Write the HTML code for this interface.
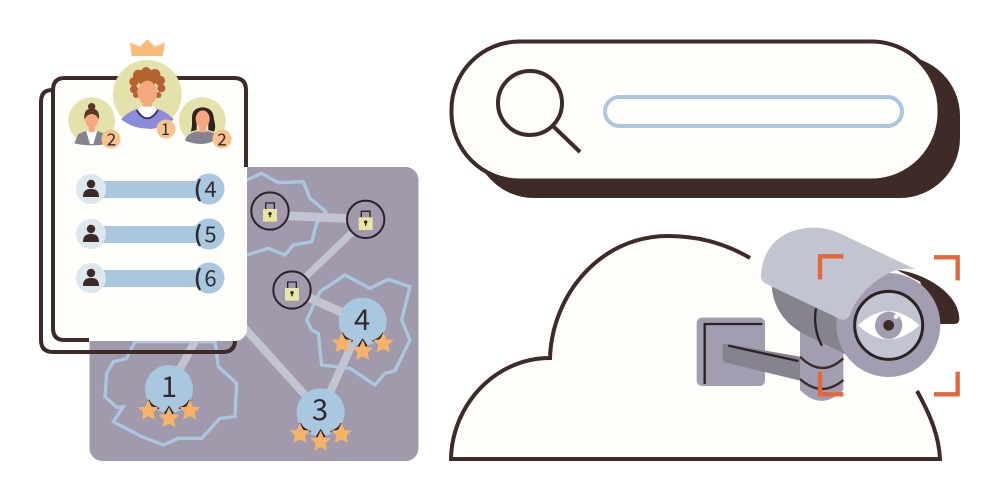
<!DOCTYPE html>
<html><head><meta charset="utf-8"><style>
html,body{margin:0;padding:0;background:#fff}
svg{display:block}
text{font-family:"Noto Sans CJK JP","Liberation Sans",sans-serif;fill:#2f2a30;text-anchor:middle}
</style></head><body>
<svg width="997" height="500" viewBox="0 0 997 500" xmlns="http://www.w3.org/2000/svg">
<defs>
<g id="stars">
<path d="M-62,33Q-55,52-30,58M-12,74L0,55L12,74M62,33Q55,52 30,58" fill="none" stroke="#2b2226" stroke-width="6"/>
<g fill="#f7b267">
<polygon transform="translate(-62 65) scale(3.3)" points="0,-10 2.9,-3.6 9.5,-3.1 4.6,1.4 5.9,8.1 0,5 -5.9,8.1 -4.6,1.4 -9.5,-3.1 -2.9,-3.6"/>
<polygon transform="translate(0 88) scale(3.3)" points="0,-10 2.9,-3.6 9.5,-3.1 4.6,1.4 5.9,8.1 0,5 -5.9,8.1 -4.6,1.4 -9.5,-3.1 -2.9,-3.6"/>
<polygon transform="translate(62 65) scale(3.3)" points="0,-10 2.9,-3.6 9.5,-3.1 4.6,1.4 5.9,8.1 0,5 -5.9,8.1 -4.6,1.4 -9.5,-3.1 -2.9,-3.6"/>
</g></g>
<g id="lock">
<circle r="56" fill="#a09aac" stroke="#2b2226" stroke-width="6"/>
<path d="M-13,-6V-24H13V-6" fill="none" stroke="#2b2226" stroke-width="4"/>
<rect x="-21" y="-6" width="42" height="38" rx="2" fill="#e9e5a5"/>
<circle cy="8" r="5" fill="#2b2226"/><rect x="-2" y="8" width="4" height="11" fill="#2b2226"/>
</g>
<g id="user">
<circle r="15" fill="#dce7f0"/>
<circle cy="-5" r="4.200" fill="#3c2a26"/>
<path d="M-8,8C-8,1-4,0 0,0S8,1 8,8Z" fill="#3c2a26"/>
</g>
</defs>

<!-- search -->
<rect x="474" y="56" width="486" height="142" rx="60" fill="#3e2a26"/>
<rect x="451.500" y="41.500" width="488" height="139" rx="68" fill="#fffefb" stroke="#3e2a26" stroke-width="4"/>
<circle cx="530" cy="103" r="32" fill="none" stroke="#3e2a26" stroke-width="4"/>
<line x1="553" y1="126" x2="580" y2="152" stroke="#3e2a26" stroke-width="4"/>
<rect x="605" y="97" width="297" height="29" rx="14.500" fill="#fffefb" stroke="#a9c8e0" stroke-width="4"/>

<!-- cloud -->
<path d="M450,459C452,405 495,358 550,358C552,295 600,236 668,236C700,236 728,245 750,258L920,400C932,418 939,438 940,459Z" fill="#fffefb"/>
<path d="M750,258C728,245 700,236 668,236C600,236 552,295 550,358C495,358 452,405 451,459H940C939,438 932,418 917,391" fill="none" stroke="#3e2a26" stroke-width="4"/>

<!-- camera -->
<g transform="translate(680 215) scale(.33333)">
<path d="M360,340H490V525Q425,590 360,525Z" fill="#a29db0"/>
<path d="M360,425Q425,490 490,430M360,492Q425,550 490,495" fill="none" stroke="#3e2a26" stroke-width="7"/>
<rect x="50" y="308" width="205" height="205" rx="16" fill="#a29db0"/>
<path d="M247,327H74V507" fill="none" stroke="#2b2226" stroke-width="7"/>
<path d="M128,388Q135,385 150,388L360,425V497L135,442Q128,438 128,430Z" fill="#86838f"/>
<line x1="145" y1="392" x2="355" y2="438" stroke="#2b2226" stroke-width="7"/>
<path d="M275,215C280,280 320,340 400,370L500,420L560,250Z" fill="#86838f"/>
<path d="M408,280C400,320 410,365 426,392" fill="none" stroke="#2b2226" stroke-width="7"/>
<path d="M650,165C720,170 838,230 838,312Q838,327 822,327H770L720,200Z" fill="#3e2a26"/>
<circle cx="625" cy="330" r="156" fill="#a29db0"/>
<path d="M243,178C250,90 310,38 405,38C440,38 470,50 500,65L705,162Q670,160 650,165C590,185 530,240 510,300Q500,320 480,312L255,205Q243,198 243,178Z" fill="#c2c4d1"/>
<circle cx="626" cy="331" r="102" fill="#c2c4d1" stroke="#2b2226" stroke-width="9"/>
<path d="M534,331Q625,245 718,331Q625,415 534,331Z" fill="#fff"/>
<circle cx="626" cy="331" r="41" fill="#a29db0"/>
<circle cx="626" cy="331" r="16" fill="#3e2a26"/>
<circle cx="648" cy="305" r="7" fill="#fff"/>
<path d="M490,124H420V193M762,127H833V196M420,470V538H490M833,470V538H762" fill="none" stroke="#e2673a" stroke-width="13"/>
</g>

<!-- network panel -->
<rect x="89.500" y="167" width="329" height="294" rx="13" fill="#a09aac"/>
<g transform="translate(80 160) scale(.33333)">
<g fill="none" stroke="#a9c8e0" stroke-width="10" stroke-linejoin="miter">
<path d="M75,710L80,640L100,605L140,595L165,545L405,545L415,620L470,670L465,770L420,775L365,835L295,835L250,855L185,830L100,785L130,740L110,742Z"/>
<path d="M680,480L720,395L795,345L870,385L925,358L990,380L965,480L990,540L945,632L915,640L885,675L810,625L725,615L715,520L695,510Z"/>
<path d="M500,60L545,40L595,68L670,65L690,115L738,155L710,190L695,245L640,255L615,285L565,265L500,285"/>
</g>
<g fill="none" stroke="#c2c4d1">
<path d="M570,165L857,178" stroke-width="26"/>
<path d="M857,178L636,390" stroke-width="21"/>
<path d="M636,390L848,485" stroke-width="26"/>
<path d="M848,485L722,757" stroke-width="24"/>
<path d="M722,757L490,500" stroke-width="24"/>
<path d="M267,687L350,535" stroke-width="24"/>
</g>
<use href="#lock" x="570" y="153"/>
<use href="#lock" x="857" y="178"/>
<use href="#lock" x="636" y="390"/>
<circle cx="267" cy="687" r="72" fill="#a9c8e0"/>
<circle cx="722" cy="757" r="72" fill="#a9c8e0"/>
<circle cx="848" cy="485" r="72" fill="#a9c8e0"/>
<use href="#stars" x="267" y="687"/>
<use href="#stars" x="722" y="757"/>
<use href="#stars" x="848" y="485"/>
</g>
<text x="169" y="397" font-size="29">1</text>
<text x="320" y="420" font-size="29">3</text>
<text x="362" y="330" font-size="29">4</text>

<!-- cards -->
<path d="M52,90Q41,90 41,102V340Q41,352 53,352H223Q235,352 235,340" fill="none" stroke="#3e2a26" stroke-width="4"/>
<rect x="52" y="76" width="195" height="265" rx="12" fill="#fffefb"/>
<path d="M89,340H64Q53,340 53,328V90Q53,78 65,78H234Q246,78 246,90V167" fill="none" stroke="#3e2a26" stroke-width="4"/>

<!-- list rows -->
<g>
<rect x="100" y="181" width="102" height="17" fill="#a9c8e0"/>
<rect x="100" y="226" width="102" height="17" fill="#a9c8e0"/>
<rect x="100" y="270" width="102" height="17" fill="#a9c8e0"/>
<circle cx="209" cy="189" r="15.500" fill="#a9c8e0"/>
<circle cx="209" cy="234" r="15.500" fill="#a9c8e0"/>
<circle cx="209" cy="278" r="15.500" fill="#a9c8e0"/>
<use href="#user" x="91" y="189"/>
<use href="#user" x="91" y="234"/>
<use href="#user" x="91" y="278"/>
<text x="198" y="197" font-size="22" font-weight="bold">(</text><text x="210.500" y="197" font-size="22">4</text>
<text x="198" y="242" font-size="22" font-weight="bold">(</text><text x="210.500" y="242" font-size="22">5</text>
<text x="198" y="286" font-size="22" font-weight="bold">(</text><text x="210.500" y="286" font-size="22">6</text>
</g>

<!-- avatars -->
<g transform="translate(30 30) scale(.33333)">
<polygon points="300,38 330,50 352,28 375,50 405,38 398,78 305,78" fill="#f9bb78"/>
<!-- left -->
<circle cx="185" cy="272" r="70" fill="#e3e2ab"/>
<path d="M133,340L145,312L170,302H200L225,312L238,340Q185,352 133,340Z" fill="#86838f"/>
<path d="M168,302H202L190,342H180Z" fill="#fff"/>
<rect x="176" y="280" width="18" height="26" fill="#f5a77f"/>
<ellipse cx="185" cy="267" rx="20" ry="26" fill="#f5a77f"/>
<path d="M163,268Q160,236 185,236T207,268Q198,252 185,252T163,268Z" fill="#5a3528"/>
<circle cx="185" cy="230" r="11" fill="#5a3528"/>
<!-- center -->
<circle cx="352" cy="193" r="103" fill="#e3e2ab"/>
<path d="M273,268Q300,238 340,232H368Q405,240 431,268Q390,300 352,296Q310,296 273,268Z" fill="#8a8bdc"/>
<path d="M322,238L340,225H365L384,240L368,262H338Z" fill="#fff"/>
<rect x="338" y="195" width="28" height="35" fill="#f5a77f"/>
<path d="M320,240Q352,290 384,240" fill="none" stroke="#2b2a50" stroke-width="5"/>
<g fill="#b4622f">
<circle cx="352" cy="145" r="28"/><circle cx="325" cy="135" r="16"/><circle cx="348" cy="125" r="14"/><circle cx="375" cy="133" r="16"/>
<circle cx="390" cy="152" r="15"/><circle cx="394" cy="175" r="12"/><circle cx="385" cy="195" r="9"/>
<circle cx="312" cy="155" r="14"/><circle cx="312" cy="178" r="12"/><circle cx="318" cy="195" r="9"/>
</g>
<ellipse cx="352" cy="188" rx="29" ry="36" fill="#f5a77f"/>
<!-- right -->
<circle cx="517" cy="272" r="70" fill="#e3e2ab"/>
<path d="M465,332Q470,310 500,304H535Q560,310 565,325Q520,355 465,332Z" fill="#86838f"/>
<path d="M482,305C492,280 478,250 497,238C515,226 545,232 550,255C552,275 560,290 552,305L535,300V260H500V300Z" fill="#2f2320"/>
<rect x="508" y="285" width="20" height="22" fill="#f5a77f"/>
<ellipse cx="518" cy="267" rx="21" ry="26" fill="#f5a77f"/>
</g>
<circle cx="166" cy="129" r="9.500" fill="#f7c48f"/>
<circle cx="111" cy="139" r="9.500" fill="#f7c48f"/>
<circle cx="222" cy="139" r="9.500" fill="#f7c48f"/>
<text x="165.500" y="135" font-size="16">1</text>
<text x="111.500" y="145.500" font-size="17">2</text>
<text x="222" y="145.500" font-size="17">2</text>
</svg>
</body></html>
